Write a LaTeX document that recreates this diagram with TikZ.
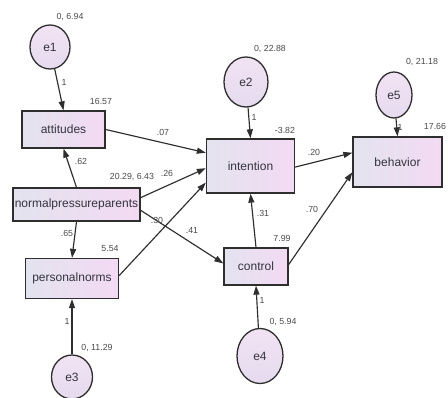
\documentclass[tikz,border=0pt]{standalone}
\usepackage{fontspec}
\setmainfont{Liberation Sans}
\usetikzlibrary{arrows.meta,shapes.geometric,calc}
\definecolor{boxL}{HTML}{E3E3EF}
\definecolor{boxR}{HTML}{F3DAF3}
\definecolor{cirT}{HTML}{F1E3F3}
\definecolor{cirB}{HTML}{E6DAEF}
\definecolor{ln}{HTML}{2E2E2E}
\definecolor{txt}{HTML}{34343F}
\definecolor{lab}{HTML}{4A4A4A}
\tikzset{
  obs/.style={draw=ln, line width=1.3pt, left color=boxL, right color=boxR, inner sep=0pt,
    font=\fontsize{12}{12}\selectfont, text=txt},
  err/.style={ellipse, draw=ln, line width=1.3pt, top color=cirT, bottom color=cirB, inner sep=0pt,
    font=\fontsize{12}{12}\selectfont, text=txt},
  lbl/.style={font=\fontsize{8.8}{8.8}\selectfont, text=lab, inner sep=0pt},
  arr/.style={draw=ln, line width=1.15pt, -{Triangle[length=9pt,width=6pt]}}
}
\begin{document}
\begin{tikzpicture}[x=1pt,y=-1pt]
\useasboundingbox[fill=white] (0,0) rectangle (448,398);
% observed variables
\node[obs, minimum width=83pt, minimum height=37pt] (att) at (63.5,129.5) {attitudes};
\node[obs, minimum width=127pt, minimum height=33pt] (npp) at (76.5,204.5) {normalpressureparents};
\node[obs, minimum width=93pt, minimum height=40pt] (pn) at (72,278.5) {personalnorms};
\node[obs, minimum width=88pt, minimum height=54pt] (int) at (250.5,166) {intention};
\node[obs, minimum width=64pt, minimum height=37pt] (ctl) at (256,266.5) {control};
\node[obs, minimum width=89pt, minimum height=50pt] (beh) at (397.5,162) {behavior};
% error terms
\node[err, minimum width=40pt, minimum height=44pt] (e1) at (50,47) {e1};
\node[err, minimum width=44pt, minimum height=50pt] (e2) at (246,82) {e2};
\node[err, minimum width=36pt, minimum height=46pt] (e5) at (394,95) {e5};
\node[err, minimum width=41pt, minimum height=44pt] (e3) at (72,377) {e3};
\node[err, minimum width=46pt, minimum height=55pt] (e4) at (260,356) {e4};
% paths
\draw[arr] (e1) -- (att.north);
\draw[arr] (npp.north) -- (att.south);
\draw[arr] (npp.south) -- (pn.north);
\draw[arr] (e3) -- (pn.south);
\draw[arr] (e2) -- (int.north);
\draw[arr] (e5) -- (beh.north);
\draw[arr] (e4) -- (ctl.south);
\draw[arr] (att.east) -- ($(int.north west)!0.26!(int.south west)$);
\draw[arr] ($(npp.north east)!0.3!(npp.south east)$) -- ($(int.north west)!0.54!(int.south west)$);
\draw[arr] ($(pn.north east)!0.43!(pn.south east)$) -- ($(int.north west)!0.8!(int.south west)$);
\draw[arr] ($(npp.north east)!0.67!(npp.south east)$) -- ($(ctl.north west)!0.42!(ctl.south west)$);
\draw[arr] (ctl.north) -- (int.south);
\draw[arr] ($(int.north east)!0.52!(int.south east)$) -- ($(beh.north west)!0.32!(beh.south west)$);
\draw[arr] ($(ctl.north east)!0.45!(ctl.south east)$) -- ($(beh.north west)!0.7!(beh.south west)$);
% labels
\node[lbl] (l1) at (70,17) {0, 6.94};
\node[lbl] (l2) at (64,82) {1};
\node[lbl] (l3) at (101,101) {16.57};
\node[lbl] (l4) at (163,132) {.07};
\node[lbl] (l5) at (81,161) {.62};
\node[lbl] (l6) at (132,177) {20.29, 6.43};
\node[lbl] (l7) at (167,173) {.26};
\node[lbl] (l8) at (157,220) {.30};
\node[lbl] (l9) at (192,230) {.41};
\node[lbl] (l10) at (67,233) {.65};
\node[lbl] (l11) at (110,249) {5.54};
\node[lbl] (l12) at (67,321) {1};
\node[lbl] (l13) at (97,348) {0, 11.29};
\node[lbl] (l14) at (270,49) {0, 22.88};
\node[lbl] (l15) at (254,117) {1};
\node[lbl] (l16) at (285,130) {-3.82};
\node[lbl] (l17) at (314,152) {.20};
\node[lbl] (l18) at (422,62) {0, 21.18};
\node[lbl] (l19) at (435,126) {17.66};
\node[lbl] (l20) at (400,127) {1};
\node[lbl] (l21) at (263,213) {.31};
\node[lbl] (l22) at (312,209) {.70};
\node[lbl] (l23) at (282,238) {7.99};
\node[lbl] (l24) at (283,322) {0, 5.94};
\node[lbl] (l25) at (262,300) {1};
\end{tikzpicture}
\end{document}
